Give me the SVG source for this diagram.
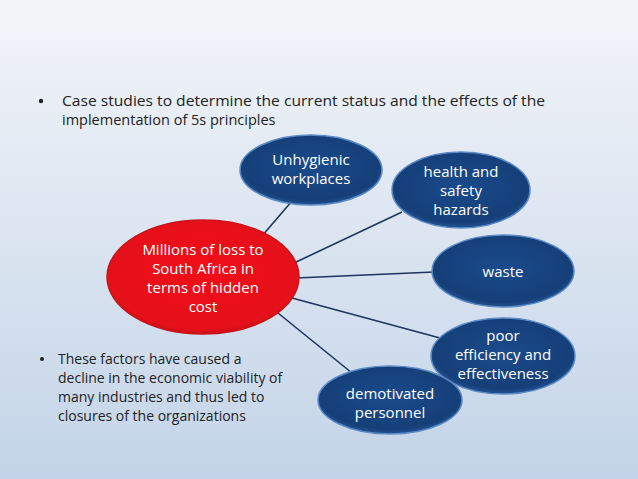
<svg xmlns="http://www.w3.org/2000/svg" width="638" height="479" viewBox="0 0 638 479">
<defs>
<linearGradient id="bg" x1="0" y1="0" x2="0" y2="1">
<stop offset="0" stop-color="#f3f5f9"/>
<stop offset="1" stop-color="#c3d4e8"/>
</linearGradient>
<radialGradient id="blue" cx="0.5" cy="0.45" r="0.6">
<stop offset="0" stop-color="#1a4b8c"/>
<stop offset="0.8" stop-color="#153f78"/>
<stop offset="1" stop-color="#2f63a6"/>
</radialGradient>
<radialGradient id="red" cx="0.5" cy="0.45" r="0.6">
<stop offset="0" stop-color="#f10d16"/>
<stop offset="0.85" stop-color="#e4101a"/>
<stop offset="1" stop-color="#b30d14"/>
</radialGradient>
</defs>
<style>
.t{font-family:"Open Sans","Liberation Sans",sans-serif;fill:#222;}
.w{font-family:"Open Sans","Liberation Sans",sans-serif;fill:#fff;text-anchor:middle;font-size:15px;}
.b{fill:url(#blue);stroke:#5b8bc6;stroke-width:1.5;}
.r{fill:url(#red);stroke:#c8141a;stroke-width:1.5;}
.c line{stroke:#1f3460;stroke-width:1.6;}
</style>
<rect width="638" height="479" fill="url(#bg)"/>
<g id="bullet1" class="t" font-size="14.5">
<circle cx="41" cy="101" r="2.2" fill="#222"/>
<text x="62" y="106" textLength="483" lengthAdjust="spacingAndGlyphs">Case studies to determine the current status and the effects of the</text>
<text x="62" y="125">implementation of 5s principles</text>
</g>
<g id="bullet2" class="t" font-size="14">
<circle cx="42" cy="359" r="2" fill="#222"/>
<text x="58" y="364">These factors have caused a</text>
<text x="58" y="383">decline in the economic viability of</text>
<text x="58" y="402">many industries and thus led to</text>
<text x="58" y="421">closures of the organizations</text>
</g>
<g class="c" id="connectors">
<line x1="262" y1="236" x2="292" y2="201"/>
<line x1="294" y1="263" x2="402" y2="212"/>
<line x1="296" y1="278" x2="434" y2="272"/>
<line x1="292" y1="298" x2="440" y2="338"/>
<line x1="278" y1="313" x2="352" y2="373"/>
</g>
<g id="n_hidden_cost">
<ellipse class="r" cx="203" cy="277" rx="96" ry="57"/>
<text class="w" x="203" y="255" font-size="16.5">Millions of loss to</text>
<text class="w" x="203" y="274" font-size="16.5">South Africa in</text>
<text class="w" x="203" y="293" font-size="16.5">terms of hidden</text>
<text class="w" x="203" y="312" font-size="16.5">cost</text>
</g>
<g id="n_unhygienic">
<ellipse class="b" cx="311" cy="170" rx="71" ry="35"/>
<text class="w" x="311" y="165">Unhygienic</text>
<text class="w" x="311" y="184">workplaces</text>
</g>
<g id="n_health">
<ellipse class="b" cx="461" cy="190" rx="69" ry="38"/>
<text class="w" x="461" y="177">health and</text>
<text class="w" x="461" y="196">safety</text>
<text class="w" x="461" y="215">hazards</text>
</g>
<g id="n_waste">
<ellipse class="b" cx="503" cy="271" rx="71" ry="36"/>
<text class="w" x="503" y="277">waste</text>
</g>
<g id="n_poor">
<ellipse class="b" cx="503" cy="356" rx="72" ry="38"/>
<text class="w" x="503" y="341">poor</text>
<text class="w" x="503" y="360">efficiency and</text>
<text class="w" x="503" y="379">effectiveness</text>
</g>
<g id="n_demotivated">
<ellipse class="b" cx="390" cy="400" rx="72" ry="34"/>
<text class="w" x="390" y="399">demotivated</text>
<text class="w" x="390" y="418">personnel</text>
</g>
</svg>
